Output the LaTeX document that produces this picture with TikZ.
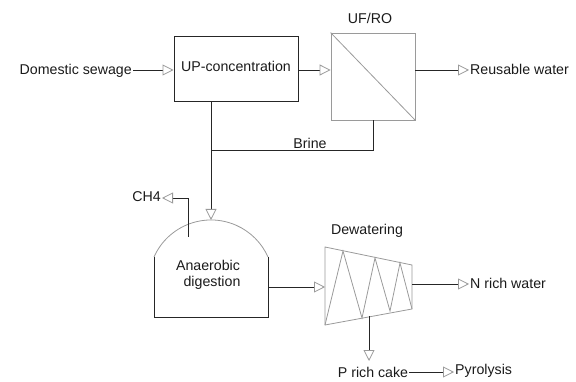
\documentclass[tikz,border=0pt]{standalone}
\usepackage{fontspec}
\setmainfont{Liberation Sans}
\usetikzlibrary{arrows.meta}
\definecolor{shapegray}{HTML}{9A9A9A}
\definecolor{txt}{HTML}{1A1A1A}
\begin{document}
\begin{tikzpicture}[x=1pt,y=-1pt,
  font=\fontsize{14.2}{16}\selectfont,
  line/.style={draw=black!85,line width=0.9pt},
  arr/.style={line,-{Triangle[open,length=11pt,width=11pt,color=shapegray,line width=0.8pt]}},
  lbl/.style={text=txt,inner sep=1pt},
  gshape/.style={draw=shapegray,line width=0.8pt}]
\useasboundingbox (0,0) rectangle (576,382);
% nodes
\node[lbl,anchor=east] (sew) at (133,71) {Domestic sewage};
\node[draw=black!85,line width=1pt,minimum width=124pt,minimum height=65pt,inner sep=0pt] (up) at (236,69.5) {};
\node[lbl] (uptxt) at (236,66) {UP-concentration};
\node[gshape,minimum width=84pt,minimum height=87pt,inner sep=0pt] (ufro) at (373,76.5) {};
\draw[gshape] (ufro.north west) -- (ufro.south east);
\node[lbl] (uflbl) at (370,18) {UF/RO};
\node[lbl,anchor=west] (reuse) at (469,69) {Reusable water};
\node[lbl] (brine) at (310,143) {Brine};
% digester
\coordinate (dtop) at (211,220);
\draw[line] (154,257) -- (154,317) -- (268,317) -- (268,257);
\draw[gshape] (154,257) arc[start angle=204,end angle=336,radius=62.4];
\node[lbl,align=center] (ad) at (208,275) {Anaerobic\\\hspace*{8pt}digestion};
\node[lbl,anchor=east] (ch4) at (162,197) {CH4};
% dewatering
\coordinate (w1) at (325,247);
\coordinate (w2) at (412,265);
\coordinate (w3) at (412,309);
\coordinate (w4) at (325,325);
\draw[gshape,line join=miter] (w1) -- (w2) -- (w3) -- (w4) -- cycle;
\draw[gshape,line join=miter] (w4) -- (343,251) -- (362,318) -- (375,258) -- (390,311) -- (400,263) -- (412,309);
\node[lbl] (dewlbl) at (367,231) {Dewatering};
\node[lbl,anchor=west] (nrich) at (469,283) {N rich water};
\node[lbl] (pcake) at (373,372) {P rich cake};
\node[lbl,anchor=west] (pyro) at (454,371) {Pyrolysis};
% connectors
\draw[arr] (sew.east |- 0,70) -- (up.west |- 0,70);
\draw[arr] (up.east |- 0,70) -- (ufro.west |- 0,70);
\draw[arr] (ufro.east |- 0,70) -- (reuse.west |- 0,70);
\draw[line] (ufro.south) |- (dtop |- 0,150);
\draw[arr] (up.south -| dtop) -- (dtop);
\draw[arr] (188,237) |- (ch4.east |- 0,198);
\draw[arr] (268,287) -- (w1 |- 0,287);
\draw[arr] (412,284) -- (nrich.west |- 0,284);
\draw[arr] (369,316) -- (369,361);
\draw[arr] (pcake.east |- 0,372) -- (pyro.west |- 0,372);
\end{tikzpicture}
\end{document}
